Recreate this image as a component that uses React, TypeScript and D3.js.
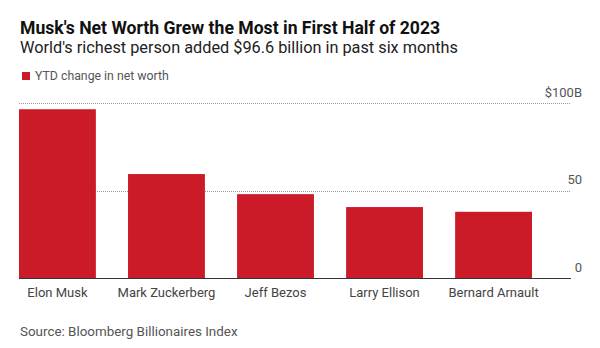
import React from "react";
import * as d3 from "d3";

const names = ["Elon Musk", "Mark Zuckerberg", "Jeff Bezos", "Larry Ellison", "Bernard Arnault"];
const ytdChange = [96.6, 59.5, 48.0, 40.6, 37.9];
const tickValues = [0, 50, 100];
const tickLabels = ["0", "50", "$100B"];

const W = 600;
const H = 348;
const FONT = "Roboto, 'Noto Sans', sans-serif";

export default function App() {
  const x = d3.scaleBand<string>().domain(names).range([19, 532]).paddingInner(0.295).paddingOuter(0);
  const y = d3.scaleLinear().domain([0, 100]).range([278, 103.3]);
  const gridLeft = 19;
  const gridRight = 571;
  return (
    <svg width={W} height={H} style={{ position: "absolute", left: 0, top: 0, background: "#fff" }} fontFamily={FONT}>
      <text x={20} y={34} fontSize={17.6} fontWeight={700} fill="#111">Musk's Net Worth Grew the Most in First Half of 2023</text>
      <text x={20} y={53} fontSize={16.3} fill="#222">World's richest person added $96.6 billion in past six months</text>
      <rect x={22} y={72} width={8} height={8} fill="#CB1B28" />
      <text x={35} y={80} fontSize={12.3} fill="#555">YTD change in net worth</text>
      {tickValues.map((t, i) => (
        <g key={t}>
          {t !== 0 && (
            <line x1={gridLeft} x2={gridRight} y1={Math.round(y(t)) + 0.5} y2={Math.round(y(t)) + 0.5} stroke="#999" strokeDasharray="1,1" />
          )}
          <text x={582} y={y(t) - 6.5} fontSize={13} textAnchor="end" fill="#555">{tickLabels[i]}</text>
        </g>
      ))}
      {names.map((n, i) => (
        <rect key={n} x={x(n)} y={y(ytdChange[i])} width={x.bandwidth()} height={y(0) - y(ytdChange[i])} fill="#CB1B28" />
      ))}
      <line x1={gridLeft} x2={gridRight} y1={278.5} y2={278.5} stroke="#333" strokeWidth={1} />
      {names.map((n) => (
        <text key={n} x={(x(n) as number) + x.bandwidth() / 2} y={297} fontSize={13} textAnchor="middle" fill="#444">{n}</text>
      ))}
      <text x={20} y={336} fontSize={13.4} fill="#555">Source: Bloomberg Billionaires Index</text>
    </svg>
  );
}
